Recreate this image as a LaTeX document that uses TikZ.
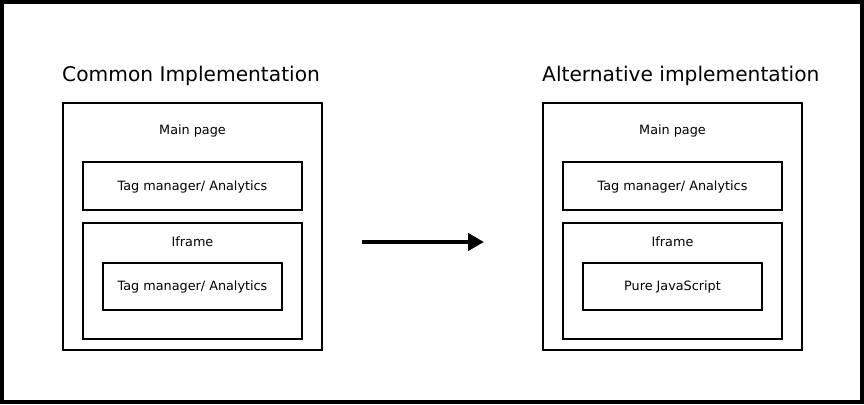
\documentclass[tikz,border=0pt]{standalone}
\usepackage{fontspec}
\setmainfont{DejaVu Sans}
\usetikzlibrary{arrows.meta}
\begin{document}
\begin{tikzpicture}[x=1pt,y=1pt,
  box/.style={draw=black,line width=2pt,inner sep=0pt,outer sep=0pt,
    font=\fontsize{12.8}{15}\selectfont},
  title/.style={anchor=base west,inner sep=0pt,font=\fontsize{20.2}{24}\selectfont},
  lbl/.style={inner sep=0pt,font=\fontsize{12.8}{15}\selectfont}]
\useasboundingbox (0,0) rectangle (864,404);
\draw[line width=4pt] (2,2) rectangle (862,402);
% left
\node[title] (t1) at (62,322) {Common Implementation};
\node[box,minimum width=259,minimum height=247] (m1) at (192.5,177.5) {};
\node[lbl] (mp1) at (192.5,273) {Main page};
\node[box,minimum width=219,minimum height=48] (tg1) at (192.5,217.5) {Tag manager/ Analytics};
\node[box,minimum width=219,minimum height=116] (if1) at (192.5,123) {};
\node[lbl] (il1) at (192.5,162.5) {Iframe};
\node[box,minimum width=179,minimum height=47] (in1) at (192.5,117.5) {Tag manager/ Analytics};
% right
\node[title] (t2) at (542,322) {Alternative implementation};
\node[box,minimum width=259,minimum height=247] (m2) at (672.5,177.5) {};
\node[lbl] (mp2) at (672.5,273) {Main page};
\node[box,minimum width=219,minimum height=48] (tg2) at (672.5,217.5) {Tag manager/ Analytics};
\node[box,minimum width=219,minimum height=116] (if2) at (672.5,123) {};
\node[lbl] (il2) at (672.5,162.5) {Iframe};
\node[box,minimum width=179,minimum height=47] (in2) at (672.5,117.5) {Pure JavaScript};
% arrow
\coordinate (a1) at (362,162);
\coordinate (a2) at (484,162);
\draw[line width=4pt,-{Triangle[length=16pt,width=17pt]}] (a1) -- (a2);
\end{tikzpicture}
\end{document}
